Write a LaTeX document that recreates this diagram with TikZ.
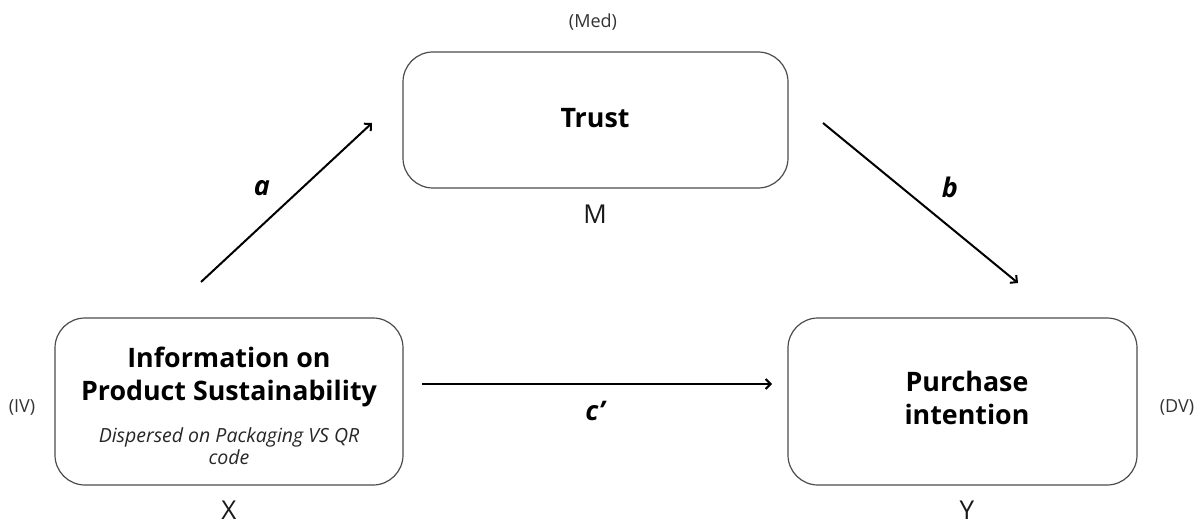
\documentclass[tikz,border=0pt]{standalone}
\usepackage{fontspec}
\setmainfont{Open Sans}
\usetikzlibrary{arrows.meta}
\tikzset{
  box/.style={draw=black!70, line width=1.2pt, rounded corners=30pt, minimum width=#1},
  box/.default={348pt},
  title/.style={font=\fontsize{26.8}{33}\selectfont\bfseries, align=center},
  sub/.style={font=\fontsize{19.5}{21}\selectfont\itshape, align=center, text=black!85},
  tag/.style={font=\fontsize{18}{20}\selectfont, text=black!80},
  var/.style={font=\fontsize{26}{28}\selectfont, text=black!90, inner sep=0pt},
  lbl/.style={font=\fontsize{27}{29}\selectfont\bfseries\itshape},
  arr/.style={line width=2pt, -{Straight Barb[length=5pt,width=10pt,line width=2pt]}}
}
\begin{document}
\begin{tikzpicture}[x=1pt,y=-1pt]
\useasboundingbox (0,0) rectangle (1199,524);
% boxes
\node[box=348pt, minimum height=167pt] (X) at (229,401.5) {};
\node[box=385pt, minimum height=136pt] (M) at (595.5,120) {};
\node[box=349pt, minimum height=167pt] (Y) at (962.5,401.5) {};
% box texts
\node[title, anchor=base] (Xt1) at (229,367) {Information on};
\node[title, anchor=base] (Xt2) at (229,400) {Product Sustainability};
\node[sub, anchor=base] (Xs1) at (229,442) {Dispersed on Packaging VS QR};
\node[sub, anchor=base] (Xs2) at (229,464) {code};
\node[title] (Mt) at (595,118) {Trust};
\node[title, anchor=base] (Yt1) at (967,391) {Purchase};
\node[title, anchor=base] (Yt2) at (967,424) {intention};
% side tags
\node[tag] (iv) at (22,407) {(IV)};
\node[tag] (med) at (593,22) {(Med)};
\node[tag] (dv) at (1177,407) {(DV)};
\node[var, anchor=base] (xl) at (229,519) {X};
\node[var] (ml) at (595,214) {M};
\node[var, anchor=base] (yl) at (967,519) {Y};
% arrows
\coordinate (aS) at (201,282);
\coordinate (aE) at (372,123);
\coordinate (bS) at (823,123);
\coordinate (bE) at (1018,283);
\coordinate (cS) at (422,384);
\coordinate (cE) at (772,384);
\draw[arr] (aS) -- (aE);
\draw[arr] (bS) -- (bE);
\draw[arr] (cS) -- (cE);
\node[lbl] (la) at (262,188) {a};
\node[lbl] (lb) at (950,187) {b};
\node[lbl] (lc) at (595,411) {c’};
\end{tikzpicture}
\end{document}
